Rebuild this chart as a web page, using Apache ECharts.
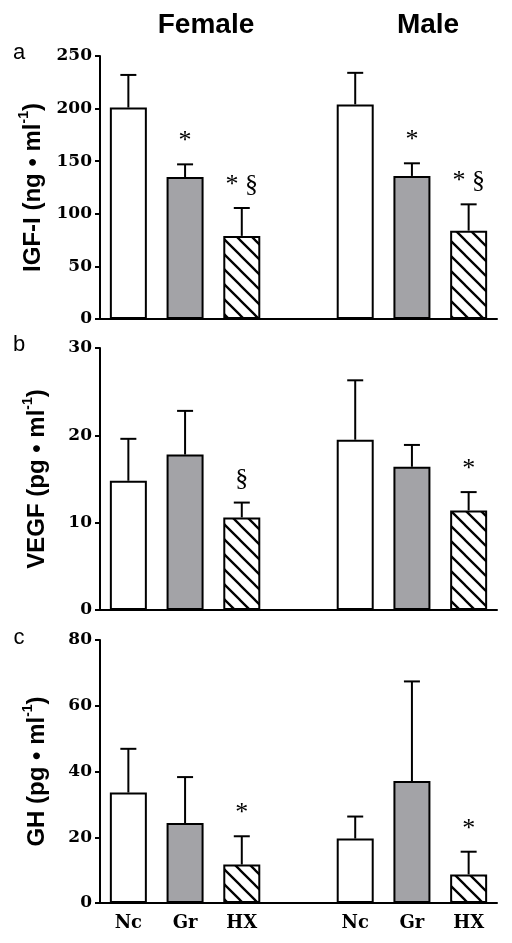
<!DOCTYPE html>
<html><head><meta charset="utf-8">
<script src="https://cdn.jsdelivr.net/npm/echarts@6/dist/echarts.min.js"></script>
<style>html,body{margin:0;padding:0;background:#fff}#c{width:512px;height:943px}</style>
</head><body><div id="c"></div>
<script>
// ---- data ----
const categories = ['Nc', 'Gr', 'HX', '', 'Nc', 'Gr', 'HX'];
const fillKind  = ['white', 'gray', 'hatch', '', 'white', 'gray', 'hatch'];

const igfMean  = [201, 135, 79, null, 204, 136, 84];
const igfErr   = [232, 147, 105.5, null, 234, 148, 109];
const igfMarks = ['', '*', '* §', '', '', '*', '* §'];

const vegfMean  = [14.8, 17.8, 10.6, null, 19.5, 16.4, 11.4];
const vegfErr   = [19.6, 22.8, 12.3, null, 26.3, 18.9, 13.5];
const vegfMarks = ['', '', '§', '', '', '', '*'];

const ghMean  = [33.6, 24.3, 11.7, null, 19.6, 37.1, 8.7];
const ghErr   = [46.9, 38.3, 20.3, null, 26.3, 67.4, 15.6];
const ghMarks = ['', '', '*', '', '', '', '*'];

const yMax  = [250, 30, 80];
const yStep = [50, 10, 20];
const yNames = [
  '{a|IGF-I (ng • ml}{s|-1}{a|)}',
  '{a|VEGF (pg • ml}{s|-1}{a|)}',
  '{a|GH (pg • ml}{s|-1}{a|)}'
];
const panelLetters = ['a', 'b', 'c'];
const groupTitles = ['Female', 'Male'];

// ---- styling helpers ----
function hatchCanvas() {
  const s = 15;
  const c = document.createElement('canvas');
  c.width = s; c.height = s;
  const g = c.getContext('2d');
  g.fillStyle = '#fff'; g.fillRect(0, 0, s, s);
  g.strokeStyle = '#000'; g.lineWidth = 2.3;
  g.beginPath();
  g.moveTo(-3, -3); g.lineTo(s + 3, s + 3);
  g.moveTo(-3, s - 3); g.lineTo(3, s + 3);
  g.moveTo(s - 3, -3); g.lineTo(s + 3, 3);
  g.stroke();
  return c;
}
const hatch = { image: hatchCanvas(), repeat: 'repeat' };
const fills = { white: '#ffffff', gray: '#a3a3a7', hatch: hatch };

const panels = [
  { mean: igfMean, err: igfErr, marks: igfMarks },
  { mean: vegfMean, err: vegfErr, marks: vegfMarks },
  { mean: ghMean, err: ghErr, marks: ghMarks }
];
const gridTops = [56, 348, 640];
const gridHeights = [263, 262, 263];

const grids = [], xAxes = [], yAxes = [], series = [];
panels.forEach((p, k) => {
  grids.push({ left: 100, top: gridTops[k], width: 397, height: gridHeights[k] });
  xAxes.push({
    type: 'category', gridIndex: k, data: categories,
    axisLine: { show: true, lineStyle: { color: '#000', width: 2 } },
    axisTick: { show: false },
    axisLabel: {
      show: k === 2, color: '#000', fontFamily: 'DejaVu Serif', fontWeight: 'bold',
      fontSize: 18, margin: 11
    }
  });
  yAxes.push({
    type: 'value', gridIndex: k, min: 0, max: yMax[k], interval: yStep[k],
    splitLine: { show: false },
    axisLine: { show: true, lineStyle: { color: '#000', width: 2 } },
    axisTick: { show: true, length: 5, lineStyle: { color: '#000', width: 2 } },
    axisLabel: { color: '#000', fontFamily: 'DejaVu Serif', fontWeight: 'bold', fontSize: 17, margin: 8 },
    name: yNames[k], nameLocation: 'middle', nameRotate: 90, nameGap: 51,
    nameTextStyle: {
      rich: {
        a: { fontFamily: 'Liberation Sans', fontWeight: 'bold', fontSize: 24, color: '#000', lineHeight: 28, verticalAlign: 'bottom' },
        s: { fontFamily: 'Liberation Sans', fontWeight: 'bold', fontSize: 14, color: '#000', lineHeight: 28, verticalAlign: 'top' }
      }
    }
  });
  series.push({
    type: 'bar', xAxisIndex: k, yAxisIndex: k, barWidth: 37, z: 2,
    data: p.mean.map((v, i) => v == null ? '-' : {
      value: v,
      itemStyle: { color: fills[fillKind[i]], borderColor: '#000', borderWidth: 2 }
    })
  });
  const errData = [];
  p.mean.forEach((v, i) => { if (v != null) errData.push([i, v, p.err[i]]); });
  series.push({
    type: 'custom', xAxisIndex: k, yAxisIndex: k, z: 3,
    data: errData,
    renderItem: function (params, api) {
      const i = api.value(0), m = api.value(1), e = api.value(2);
      const p0 = api.coord([i, m]), p1 = api.coord([i, e]);
      const ch = [
        { type: 'line', shape: { x1: p0[0], y1: p0[1], x2: p1[0], y2: p1[1] }, style: { stroke: '#000', lineWidth: 2 } },
        { type: 'line', shape: { x1: p1[0] - 8, y1: p1[1], x2: p1[0] + 8, y2: p1[1] }, style: { stroke: '#000', lineWidth: 2 } }
      ];
      const mark = p.marks[i];
      if (mark) {
        ch.push({ type: 'text', x: p1[0], y: p1[1] - 10,
          style: { text: mark, fill: '#000', font: '26px "Liberation Serif"', align: 'center', verticalAlign: 'bottom' } });
      }
      return { type: 'group', children: ch };
    }
  });
});

const graphics = [];
graphics.push({ type: 'text', x: 206, y: 25, style: { text: groupTitles[0], font: 'bold 28px "Liberation Sans"', fill: '#000', align: 'center', verticalAlign: 'middle' } });
graphics.push({ type: 'text', x: 428, y: 25, style: { text: groupTitles[1], font: 'bold 28px "Liberation Sans"', fill: '#000', align: 'center', verticalAlign: 'middle' } });
const letterY = [53, 345, 638];
panelLetters.forEach((t, k) => {
  graphics.push({ type: 'text', x: 19, y: letterY[k], style: { text: t, font: '22px "Liberation Sans"', fill: '#000', align: 'center', verticalAlign: 'middle' } });
});

const chart = echarts.init(document.getElementById('c'), null, { renderer: 'canvas' });
chart.setOption({
  backgroundColor: '#fff',
  animation: false,
  grid: grids, xAxis: xAxes, yAxis: yAxes, series: series,
  graphic: graphics
});
</script></body></html>
